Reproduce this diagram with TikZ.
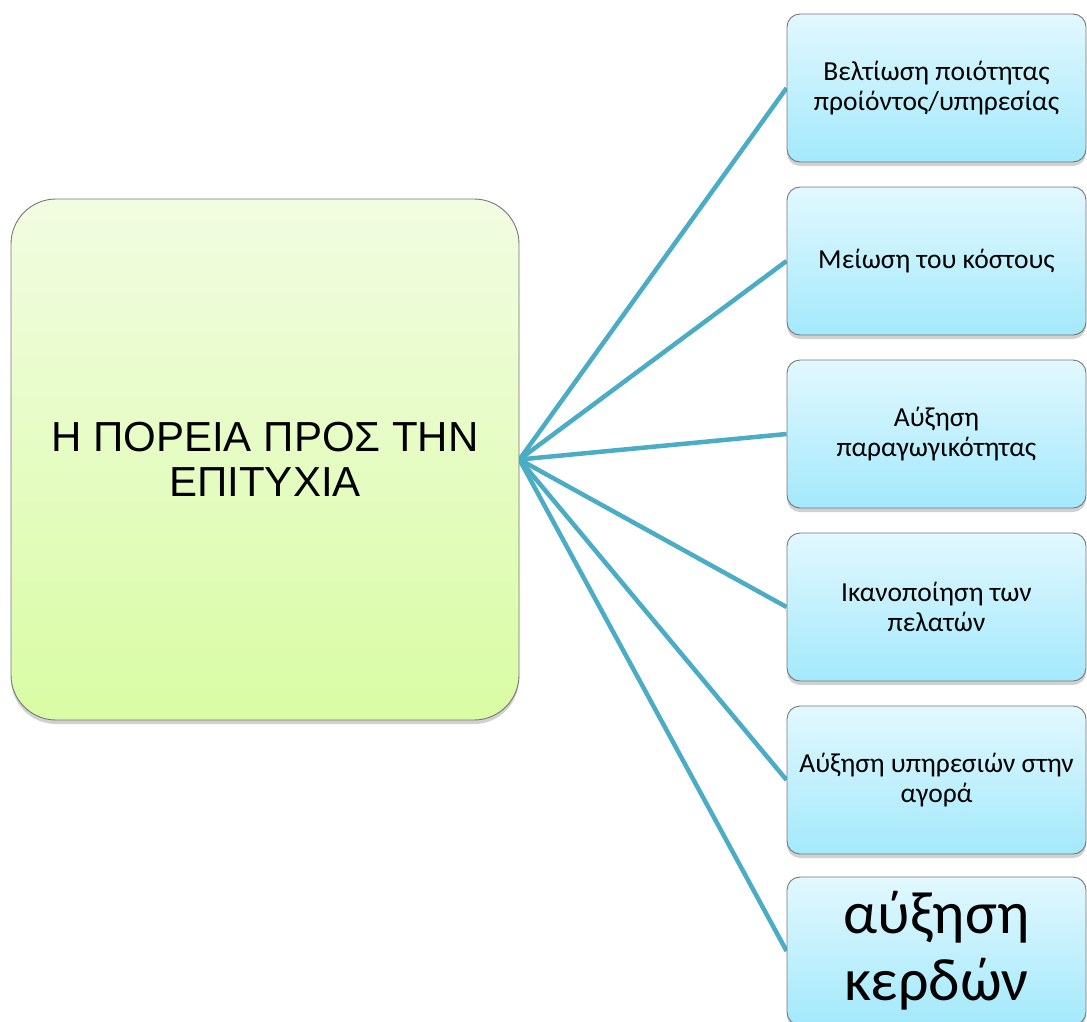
\documentclass[tikz,border=0pt]{standalone}
\usepackage{fontspec}
\setmainfont{Carlito}
\newfontfamily\arialfont{Liberation Sans}
\usetikzlibrary{shadows,backgrounds}
\definecolor{linkblue}{RGB}{75,172,198}
\definecolor{edgegray}{RGB}{118,118,118}
\definecolor{greentop}{RGB}{242,252,226}
\definecolor{greenbot}{RGB}{217,252,164}
\definecolor{bluetop}{RGB}{226,248,254}
\definecolor{bluebot}{RGB}{163,233,252}
\tikzset{
  mainbox/.style={draw=edgegray, line width=0.9pt, rounded corners=45pt,
    top color=greentop, bottom color=greenbot,
    minimum width=508pt, minimum height=521pt, align=center, inner sep=0pt,
    drop shadow={shadow xshift=0pt, shadow yshift=-4pt, opacity=0.3, fill=black!60},
    font=\arialfont\fontsize{42}{45}\selectfont},
  itembox/.style={draw=edgegray, line width=0.9pt, rounded corners=13pt,
    top color=bluetop, bottom color=bluebot,
    minimum width=299pt, minimum height=148pt, align=center, inner sep=0pt,
    drop shadow={shadow xshift=0pt, shadow yshift=-4pt, opacity=0.3, fill=black!60},
    font=\fontsize{27.5}{30}\selectfont},
  bigtext/.style={font=\fontsize{60}{67}\selectfont},
  link/.style={draw=linkblue, line width=4.5pt}
}
\begin{document}
\begin{tikzpicture}[x=1pt,y=-1pt]
\useasboundingbox (0,0) rectangle (1087,1021);
\node[mainbox] (L) at (265,459.5) {Η ΠΟΡΕΙΑ ΠΡΟΣ ΤΗΝ\\ΕΠΙΤΥΧΙΑ};
\node[itembox] (B1) at (936.5,88) {Βελτίωση ποιότητας\\προίόντος/υπηρεσίας};
\node[itembox] (B2) at (936.5,261) {Μείωση του κόστους};
\node[itembox] (B3) at (936.5,434) {Αύξηση\\παραγωγικότητας};
\node[itembox] (B4) at (936.5,607) {Ικανοποίηση των\\πελατών};
\node[itembox] (B5) at (936.5,780) {Αύξηση υπηρεσιών στην\\αγορά};
\node[itembox,bigtext] (B6) at (936.5,951) {αύξηση\\κερδών};
\begin{scope}[on background layer]
\foreach \b in {B1,B2,B3,B4,B5,B6}
  \draw[link] (L.east) -- (\b.west);
\end{scope}
\end{tikzpicture}
\end{document}
